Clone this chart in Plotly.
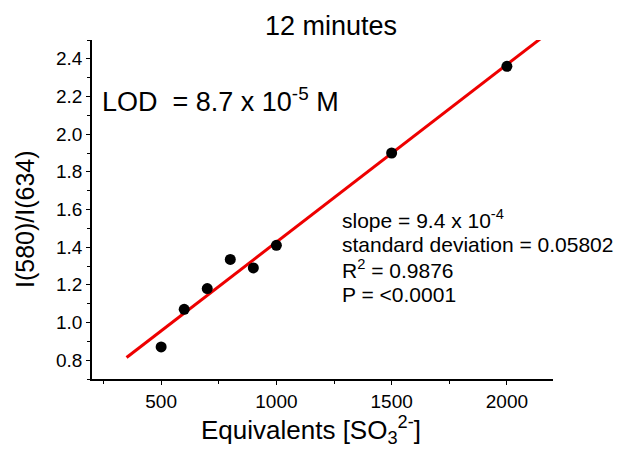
import numpy as np
import plotly.graph_objects as go

equivalents = [500, 600, 700, 800, 900, 1000, 1500, 2000]
ratio = [0.87, 1.07, 1.18, 1.335, 1.29, 1.41, 1.90, 2.36]
fit_x = [350, 2200]

slope, intercept = np.polyfit(equivalents, ratio, 1)
fit_y = [intercept + slope * x for x in fit_x]

stats_lines = [
    "slope = 9.4 x 10<sup>-4</sup>",
    "standard deviation = 0.05802",
    "R<sup>2</sup> = 0.9876",
    "P = &lt;0.0001",
]

FONT = "Liberation Sans, Arial, sans-serif"
OFF = 8  # page body margin
W, H = 624 - OFF, 450 - OFF
L, T = 92 - OFF, 40 - OFF
R, B = W - (553 - OFF), H - (379 - OFF)
PW, PH = W - L - R, H - T - B


# screen pixel -> paper coords
def px(x):
    return (x - OFF - L) / PW


def py(y):
    return (H - B - (y - OFF)) / PH


fig = go.Figure()
fig.add_trace(go.Scatter(x=fit_x, y=fit_y, mode="lines",
                         line=dict(color="#ee0000", width=3), showlegend=False))
fig.add_trace(go.Scatter(x=equivalents, y=ratio, mode="markers",
                         marker=dict(color="black", size=11), showlegend=False))

fig.update_layout(
    width=W, height=H,
    margin=dict(l=L, r=R, t=T, b=B),
    plot_bgcolor="white", paper_bgcolor="white",
    font=dict(family=FONT, color="black"),
)
axis_common = dict(
    showgrid=False, zeroline=False, automargin=False,
    showline=True, linecolor="black", linewidth=1.5,
    ticks="outside", ticklen=4, tickwidth=1.2, tickcolor="black",
    tickfont=dict(size=19),
)
fig.update_xaxes(range=[200, 2200], dtick=500, tick0=0,
                 minor=dict(dtick=250, tick0=0, ticks="outside", ticklen=3, tickcolor="black"),
                 **axis_common)
fig.update_yaxes(range=[0.7, 2.5], dtick=0.2, tick0=0, tickformat=".1f",
                 minor=dict(dtick=0.1, tick0=0, ticks="outside", ticklen=3, tickcolor="black"),
                 **axis_common)

ann = dict(xref="paper", yref="paper", showarrow=False)
fig.add_annotation(text="12 minutes", x=px(331), y=py(26), xanchor="center", yanchor="middle",
                   font=dict(size=27), **ann)
fig.add_annotation(text="Equivalents [SO<sub>3</sub><sup>2-</sup>]",
                   x=px(311), y=py(430), xanchor="center", yanchor="middle",
                   font=dict(size=26), **ann)
fig.add_annotation(text="I(580)/I(634)", textangle=-90,
                   x=px(25), y=py(219), xanchor="center", yanchor="middle",
                   font=dict(size=25), **ann)
fig.add_annotation(text="LOD  = 8.7 x 10<sup>-5</sup> M",
                   x=px(100), y=py(100), xanchor="left", yanchor="middle",
                   font=dict(size=27), **ann)
for i, line in enumerate(stats_lines):
    fig.add_annotation(text=line, x=px(340), y=py(219 + 25 * i), xanchor="left", yanchor="middle",
                       font=dict(size=21), **ann)

fig.write_html("out.html")
